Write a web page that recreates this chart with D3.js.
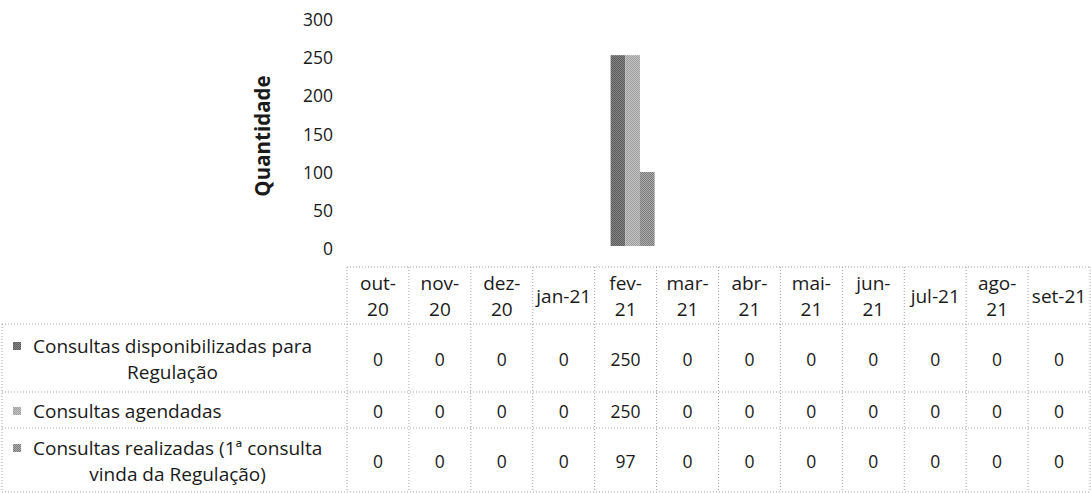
<!DOCTYPE html>
<html>
<head>
<meta charset="utf-8">
<script src="https://cdn.jsdelivr.net/npm/d3@7"></script>
<style>
  body { margin: 0; background: #fff; }
  svg { display: block; font-family: 'Open Sans', Lato, sans-serif; }
</style>
</head>
<body>
<div id="container"></div>
<script>
// data
var months = ['out-20', 'nov-20', 'dez-20', 'jan-21', 'fev-21', 'mar-21', 'abr-21', 'mai-21', 'jun-21', 'jul-21', 'ago-21', 'set-21'];
var monthLabels = [['out-', '20'], ['nov-', '20'], ['dez-', '20'], ['jan-21'], ['fev-', '21'], ['mar-', '21'],
  ['abr-', '21'], ['mai-', '21'], ['jun-', '21'], ['jul-21'], ['ago-', '21'], ['set-21']];
var seriesNames = [
  ['Consultas disponibilizadas para', 'Regulação'],
  ['Consultas agendadas'],
  ['Consultas realizadas (1ª consulta', 'vinda da Regulação)']
];
var disponibilizadas = [0, 0, 0, 0, 250, 0, 0, 0, 0, 0, 0, 0];
var agendadas = [0, 0, 0, 0, 250, 0, 0, 0, 0, 0, 0, 0];
var realizadas = [0, 0, 0, 0, 97, 0, 0, 0, 0, 0, 0, 0];
var yTicks = [0, 50, 100, 150, 200, 250, 300];
var yTitle = 'Quantidade';

var series = [disponibilizadas, agendadas, realizadas];
var shades = [['#585858', '#888888'], ['#9c9c9c', '#c6c6c6'], ['#7a7a7a', '#acacac']];

var W = 1091, H = 493, fsNum = 17.5, fsText = 19;
var svg = d3.select('#container').append('svg')
  .attr('width', W)
  .attr('height', H);

svg.append('rect').attr('width', W).attr('height', H).attr('fill', '#fff');

// halftone-ish fills, like the scan
var defs = svg.append('defs');
shades.forEach(function(s, i) {
  var p = defs.append('pattern')
    .attr('id', 'pat' + i)
    .attr('width', 2).attr('height', 2)
    .attr('patternUnits', 'userSpaceOnUse');
  p.append('rect').attr('width', 2).attr('height', 2).attr('fill', s[1]);
  p.append('rect').attr('width', 1).attr('height', 1).attr('fill', s[0]);
  p.append('rect').attr('x', 1).attr('y', 1).attr('width', 1).attr('height', 1).attr('fill', s[0]);
});

var x = d3.scaleBand().domain(months).range([347, 1090]);
var y = d3.scaleLinear().domain([0, 300]).range([246, 17]);
var groupW = 44;
var xSub = d3.scaleBand().domain(d3.range(series.length)).range([0, groupW]);
var groupShift = (x.bandwidth() - groupW) / 2 + 7;

// y axis labels (no line, no ticks)
svg.append('g').selectAll('text')
  .data(yTicks)
  .enter()
  .append('text')
  .attr('x', 333)
  .attr('y', function(d) { return y(d) + 3; })
  .attr('dy', '0.35em')
  .attr('text-anchor', 'end')
  .attr('font-size', fsNum)
  .attr('fill', '#1a1a1a')
  .text(function(d) { return d; });

svg.append('text')
  .attr('transform', 'translate(263,136) rotate(-90)')
  .attr('text-anchor', 'middle')
  .attr('dy', '0.35em')
  .attr('font-size', 20.5)
  .attr('font-weight', 'bold')
  .attr('fill', '#1a1a1a')
  .text(yTitle);

// bars
series.forEach(function(vals, si) {
  svg.append('g').selectAll('rect')
    .data(vals.map(function(v, i) { return { m: months[i], v: v }; }).filter(function(d) { return d.v > 0; }))
    .enter()
    .append('rect')
    .attr('x', function(d) { return x(d.m) + groupShift + xSub(si); })
    .attr('y', function(d) { return y(d.v); })
    .attr('width', xSub.bandwidth())
    .attr('height', function(d) { return y(0) - y(d.v); })
    .attr('fill', 'url(#pat' + si + ')');
});

// data table
var headTop = 267, rowLines = [324, 392, 428, 492];
var grid = svg.append('g')
  .attr('stroke', '#a0a0a0')
  .attr('stroke-width', 1)
  .attr('stroke-dasharray', '1,2');

grid.append('line').attr('x1', 347).attr('x2', 1090).attr('y1', headTop).attr('y2', headTop);
rowLines.forEach(function(ry) {
  grid.append('line').attr('x1', 2).attr('x2', 1090).attr('y1', ry).attr('y2', ry);
});
months.concat(['end']).forEach(function(m, i) {
  var lx = i < months.length ? x(m) : 1090;
  grid.append('line').attr('x1', lx).attr('x2', lx).attr('y1', headTop).attr('y2', rowLines[3]);
});
grid.append('line').attr('x1', 2).attr('x2', 2).attr('y1', rowLines[0]).attr('y2', rowLines[3]);

var lineH = 26;
svg.append('g').selectAll('g')
  .data(monthLabels)
  .enter()
  .append('g')
  .attr('transform', function(d, i) {
    var cy = (headTop + rowLines[0]) / 2 + 1 - (d.length - 1) * lineH / 2;
    return 'translate(' + (x(months[i]) + x.bandwidth() / 2) + ',' + cy + ')';
  })
  .selectAll('text')
  .data(function(d) { return d; })
  .enter()
  .append('text')
  .attr('y', function(d, j) { return j * lineH; })
  .attr('dy', '0.35em')
  .attr('text-anchor', 'middle')
  .attr('font-size', fsText)
  .attr('fill', '#1a1a1a')
  .text(function(d) { return d; });

// values
series.forEach(function(vals, si) {
  var cy = (rowLines[si] + rowLines[si + 1]) / 2 + 2;
  svg.append('g').selectAll('text')
    .data(vals)
    .enter()
    .append('text')
    .attr('x', function(d, i) { return x(months[i]) + x.bandwidth() / 2; })
    .attr('y', cy)
    .attr('dy', '0.35em')
    .attr('text-anchor', 'middle')
    .attr('font-size', fsNum)
    .attr('fill', '#1a1a1a')
    .text(function(d) { return d; });
});

// legend keys + series names
seriesNames.forEach(function(lines, si) {
  var cy = (rowLines[si] + rowLines[si + 1]) / 2 + 1 - (lines.length - 1) * lineH / 2;
  var g = svg.append('g');
  var texts = g.selectAll('text')
    .data(lines)
    .enter()
    .append('text')
    .attr('font-size', fsText)
    .attr('fill', '#1a1a1a')
    .attr('text-anchor', 'middle')
    .attr('dy', '0.35em')
    .text(function(d) { return d; });
  var widths = [];
  texts.each(function() { widths.push(this.getComputedTextLength()); });
  var blockW = d3.max(widths);
  var left = 33;
  texts.attr('x', left + blockW / 2)
    .attr('y', function(d, j) { return cy + j * lineH; });
  g.append('rect')
    .attr('x', 13).attr('y', cy - 4)
    .attr('width', 8).attr('height', 8)
    .attr('fill', 'url(#pat' + si + ')');
});
</script>
</body>
</html>
